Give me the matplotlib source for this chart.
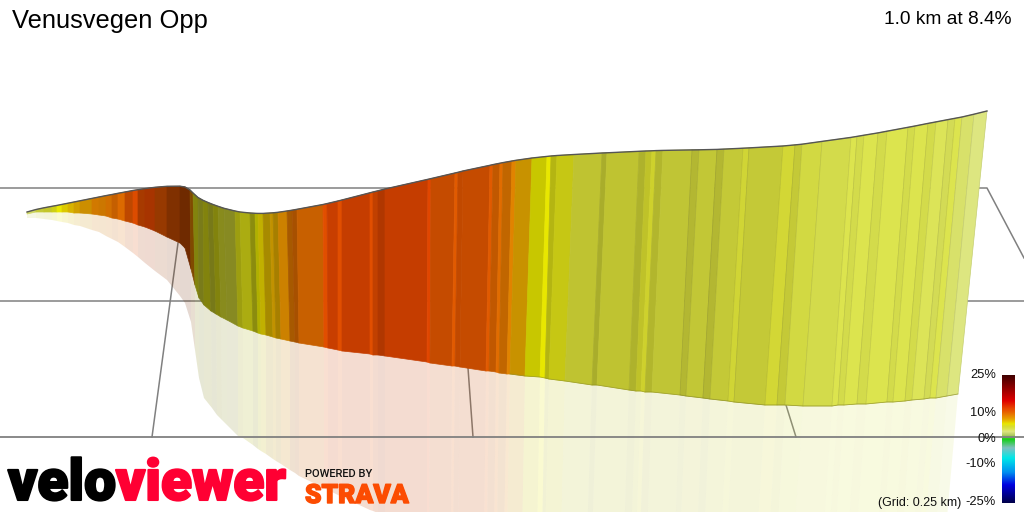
from matplotlib import pyplot as plt
from matplotlib.collections import PolyCollection
from matplotlib.colors import LinearSegmentedColormap
from matplotlib import patheffects
import numpy as np

title = "Venusvegen Opp"
summary = "1.0 km at 8.4%"
scale_ticks = [25, 10, 0, -10, -25]
scale_labels = ["25%", "10%", "0%", "-10%", "-25%"]

# wall of the climb, one value per strip boundary (picture pixels)
top_x = [27,36,44,52,57,62,68,74,80,92,99,106,112,118,125,133,138,145,155,167,180,185,190,193,198,203,208,213,218,224,235,240,250,255,258,263,270,273,278,287,292,297,323,327,338,342,370,373,378,385,428,431,455,458,463,490,493,500,503,512,516,532,547,551,557,574,602,607,639,646,652,656,663,692,699,717,724,743,749,783,795,802,822,851,857,864,878,887,908,915,928,936,948,955,962,974,987]
top_y = [212,209.5,207.8,206.3,205.4,204.4,203.2,202,200.8,198.4,197,195.6,194.5,193.3,192,190.5,189.7,188.6,187.3,186.3,186.2,187,190,193,197.5,200.3,202.5,204.5,206.3,208.3,211,212,213,213.3,213.4,213.4,213,212.8,212.3,211,210.2,209.3,204.5,203.6,201,200,192.8,192,190.8,189,179.3,178.6,173,172.3,171,165.3,164.6,163.2,162.6,161,160.3,158,156.4,156,155.5,154.5,153,152.8,151.3,151,150.8,150.6,150.4,149.9,149.8,149.4,149.1,148.2,147.9,146,144.9,144.2,141.4,137.4,136.4,135.2,132.9,131.2,127.3,126,123.4,121.9,119.6,118.3,117,114.2,111]
low_x = [27,36,44,52,57,62,68,74,80,92,99,106,112,118,125,133,138,145,155,167,180,185,191,195,199,204,211,216,221,227,238,243,253,258,261,266,273,276,281,290,295,299,324,328,338,342,370,373,378,385,427,430,452,455,460,486,489,496,499,507,510,525,540,545,549,565,592,597,629,636,641,645,652,680,686,703,710,728,734,765,777,785,803,832,838,844,857,866,887,893,905,912,924,930,936,947,958]
low_y = [214,212,212,212,212,212,212,213,213,214,215,216,218,219,221,223,225,227,231,237,243,248,269,285,298,305,311,314,317,320,326,328,331,333,334,335,337,338,339,341,342,343,347,348,350,351,354,355,355,356,362,363,366,366,367,371,371,372,373,374,374,376,377,378,379,381,385,385,390,391,391,392,392,395,396,398,399,401,402,405,405,405,406,406,405,405,404,404,402,402,401,400,399,398,398,396,394]
shadow_x = [27,36,44,52,57,62,68,74,80,92,99,106,112,118,125,133,138,145,155,167,180,185,191,195,199,204,212,217,222,227,238,243,253,258,261,266,273,276,281,290,295,299,324,328,338,342,370,373,378,385,427,429,451,453,458,484,487,494,497,504,507,522,537,542,545,561,587,592,624,631,636,640,647,675,680,697,704,721,727,757,769,777,794,823,829,835,848,856,877,883,895,902,913,919,924,935,945]
shadow_y = [218,218,219,220,221,222,223,225,226,230,232,236,239,242,247,253,257,263,271,280,296,303,322,350,378,398,408,415,420,425,436,438,445,449,451,454,459,461,464,470,473,476,488,490,495,497,510,511,513,516,540,540,540,540,540,540,540,540,540,540,540,540,540,540,540,540,540,540,540,540,540,540,540,540,540,540,540,540,540,540,540,540,540,540,540,540,540,540,540,540,540,540,540,540,540,540,540]

# gradient (%) and lighting of each strip
grades = [3.5,4.5,5,5.5,6,6.5,7,7.5,8,9,9,9.5,10,10,11,11.5,11.5,12,11,11,11,11,9,5.5,5,5.5,5,5.5,5,4.7,5.5,5.5,5.5,6,6.5,7,7.5,7.5,8.5,9.5,10,10,11.5,12,11.5,12,11.5,11.7,12,12,12,11,10.8,11,11,10.8,10.2,10,9.5,9,7.7,6,6,5.5,5.5,4.7,4.7,4.7,4.7,5,5,4.7,4.5,4.5,4.5,4.5,4.5,4.7,4.5,4.7,4.5,4.2,4,4,4,4,4,4,4,4,4,3.8,3.8,4,3.4,3]
light = [.93,.9,.9,.92,1,.95,.93,.9,.88,.9,.88,.9,.85,.95,.82,.95,.72,.72,.65,.55,.48,.48,.55,.58,.56,.58,.55,.58,.63,.62,.7,.76,.62,.76,.83,.72,.83,.72,.88,.72,.72,.86,.97,.86,.97,.85,.97,.83,.76,.85,.97,.85,.97,.83,.85,.97,.83,.97,.83,.97,.86,.86,1,.8,.88,.88,.78,.88,.8,.88,.95,.82,.88,.82,.89,.82,.9,.96,.9,.97,.9,.96,.96,1,.96,1,.96,1,.96,1,.96,1,.96,1,.98,1]

grade_stops = [-25,-18,-13,-7.5,-3.5,0,1.5,3,4,5,6,7,8,9,10,11,12,15,20,25]
grade_colors = ['#00004a','#0000e0','#0090f0','#00e8e8','#80c0c0','#10d010','#b0c860','#dde680','#dce44c','#d8dc30','#e8e800','#e8c000','#e8a000','#e88800','#e87000','#e85800','#e84800','#e00000','#900000','#400000']

# grid lines of the 3d view
grid_lines = [
    ([0,987,1024],[188,188,258]),
    ([0,1024],[301,301]),
    ([178,152],[243,437]),
    ([468,473],[368,437]),
    ([786,796],[405,437]),
]

cmap = LinearSegmentedColormap.from_list(
    'grade', [((g+25)/50, c) for g, c in zip(grade_stops, grade_colors)], N=512)

fig = plt.figure(figsize=(10.24,5.12), dpi=100)
ax = fig.add_axes([0,0,1,1])
ax.set_xlim(0,1024)
ax.set_ylim(512,0)
ax.axis('off')

plt.rcParams['font.family'] = ['Liberation Sans', 'DejaVu Sans']

for xs, ys in grid_lines:
    ax.plot(xs, ys, color='#808080', lw=1.1, zorder=1)

colors = cmap((np.array(grades)+25)/50)
colors[:,:3] = colors[:,:3]*np.array(light)[:,None]

walls = []
shadows = []
for i in range(len(grades)):
    walls.append([(top_x[i],top_y[i]),(top_x[i+1],top_y[i+1]),(low_x[i+1],low_y[i+1]),(low_x[i],low_y[i])])
    shadows.append([(low_x[i],low_y[i]),(low_x[i+1],low_y[i+1]),(shadow_x[i+1],shadow_y[i+1]),(shadow_x[i],shadow_y[i])])

shadow_colors = colors.copy()
shadow_colors[:,3] = 0.18
ax.add_collection(PolyCollection(shadows, facecolors=shadow_colors, edgecolors='none', zorder=2))

# only the pale end of the climb shows lines between strips
edge_colors = colors.copy()
edge_colors[73:,:3] = edge_colors[73:,:3]*0.9
ax.add_collection(PolyCollection(walls, facecolors=colors, edgecolors=edge_colors, linewidths=0.5, zorder=3))

ax.plot(top_x, top_y, color='#555555', lw=1.0, zorder=4)
ax.plot(low_x[60:], low_y[60:], color='#8a8a20', lw=0.6, alpha=0.6, zorder=4)

# colour scale
ramp = np.linspace(1,0,256).reshape(-1,1)
ax.imshow(ramp, cmap=cmap, vmin=0, vmax=1, extent=(1002,1015,503,375), aspect='auto', zorder=5)
ax.set_xlim(0,1024)
ax.set_ylim(512,0)
ax.plot([0,1024],[437,437], color='#808080', lw=1.3, zorder=6)

for tick, label in zip(scale_ticks, scale_labels):
    ax.text(996, 438.5-tick*2.54, label, ha='right', va='center', fontsize=9.3, color='#111111', zorder=7)
ax.text(961, 503, "(Grid: 0.25 km)", ha='right', va='center', fontsize=9, color='#111111', zorder=7)

ax.text(12, 21, title, ha='left', va='center', fontsize=18.4, color='black', zorder=7)
ax.text(1011, 19, summary, ha='right', va='center', fontsize=13.8, color='black', zorder=7)

# logos
ax.text(8, 500, "velo", ha='left', va='baseline', fontsize=41, family='Roboto', fontweight='black',
        color='black', zorder=7,
        path_effects=[patheffects.withStroke(linewidth=1.5, foreground='black')])
ax.text(286, 500, "viewer", ha='right', va='baseline', fontsize=41, family='Roboto', fontweight='black',
        color='#ff0033', zorder=8,
        path_effects=[patheffects.withStroke(linewidth=1.5, foreground='#ff0033')])
ax.text(305, 477, "POWERED BY", ha='left', va='baseline', fontsize=8, family='Roboto', fontweight='medium',
        color='#111111', zorder=7)
ax.text(305, 503, "STRAVA", ha='left', va='baseline', fontsize=19, family='Roboto', fontweight='black',
        color='#fc4c02', zorder=7,
        path_effects=[patheffects.withStroke(linewidth=1, foreground='#fc4c02')])

fig.savefig('out.png', dpi=100)
